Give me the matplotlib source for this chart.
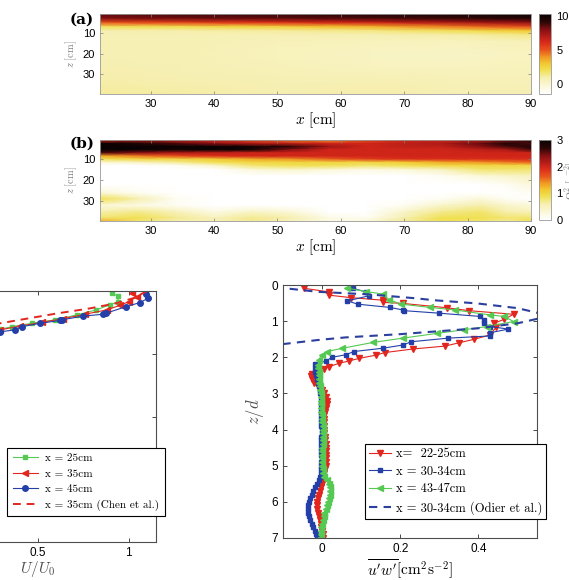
import matplotlib.pyplot as plt
import numpy as np
from matplotlib.colors import LinearSegmentedColormap

plt.rcParams['font.family'] = 'Liberation Sans'
plt.rcParams['mathtext.fontset'] = 'cm'
plt.rcParams['xtick.direction'] = 'in'
plt.rcParams['ytick.direction'] = 'in'
plt.rcParams['xtick.top'] = True
plt.rcParams['ytick.right'] = True

# ---- panel (a): vorticity-like field, rows = z, cols = x
a_x = [22, 35, 50, 65, 80, 90]
a_z = [0.8, 3, 5, 7, 9, 11, 14, 20, 26, 32, 39.5]
a_vals = [
    [8.5, 8.8, 9.0, 9.5, 9.8, 10.0],
    [8.0, 8.2, 8.4, 8.7, 9.0, 9.3],
    [5.0, 5.5, 6.0, 6.5, 7.3, 7.8],
    [2.0, 2.3, 2.8, 3.5, 4.6, 5.3],
    [0.9, 1.0, 1.2, 1.5, 2.3, 3.0],
    [0.8, 0.8, 0.8, 0.9, 1.1, 1.5],
    [0.8, 0.8, 0.7, 0.6, 0.6, 0.7],
    [0.8, 0.8, 0.6, 0.4, 0.3, 0.5],
    [0.9, 0.8, 0.7, 0.5, 0.5, 0.6],
    [1.0, 0.9, 0.8, 0.8, 0.7, 0.7],
    [1.2, 1.1, 0.9, 1.0, 0.8, 0.9],
]

# ---- panel (b): Omega^2 field
b_x = [22, 28, 34, 40, 46, 52, 58, 64, 70, 76, 82, 86, 90]
b_z = [0.8, 2.5, 4, 5.5, 7, 8.5, 10, 11.5, 13, 15, 18, 22, 26, 29, 32, 35, 38, 39.5]
b_vals = [
    [2.0, 2.2, 2.0, 1.9, 1.7, 1.5, 1.4, 1.7, 2.0, 2.0, 2.1, 2.4, 2.8],
    [3.0, 2.8, 2.6, 2.4, 2.2, 2.1, 2.0, 2.0, 2.1, 2.2, 2.5, 2.8, 2.6],
    [3.0, 3.0, 3.0, 3.0, 2.9, 2.7, 2.3, 2.0, 2.1, 2.1, 2.4, 2.6, 2.8],
    [3.0, 3.0, 2.9, 3.0, 2.9, 2.4, 2.0, 2.0, 2.0, 2.0, 2.1, 2.2, 2.6],
    [2.6, 2.4, 2.2, 2.1, 2.0, 2.0, 2.0, 2.0, 2.0, 2.0, 2.0, 2.0, 2.0],
    [1.3, 1.5, 1.7, 1.9, 2.0, 2.0, 2.0, 2.0, 2.0, 2.0, 2.0, 2.0, 2.0],
    [0.9, 1.0, 1.0, 1.1, 1.3, 1.4, 1.6, 1.8, 1.9, 1.9, 1.9, 1.9, 1.9],
    [0.3, 0.5, 0.7, 0.9, 1.0, 1.0, 1.0, 1.0, 1.1, 1.3, 1.4, 1.5, 1.6],
    [0.0, 0.0, 0.1, 0.4, 0.8, 0.9, 0.9, 0.8, 0.9, 1.0, 1.0, 1.0, 1.0],
    [0.0, 0.0, 0.0, 0.0, 0.3, 0.4, 0.3, 0.2, 0.3, 0.5, 0.8, 0.8, 0.8],
    [0.0, 0.0, 0.0, 0.0, 0.0, 0.0, 0.0, 0.0, 0.0, 0.1, 0.3, 0.4, 0.5],
    [0.0, 0.0, 0.0, 0.0, 0.0, 0.0, 0.0, 0.0, 0.0, 0.0, 0.0, 0.1, 0.3],
    [0.3, 0.1, 0.0, 0.0, 0.0, 0.0, 0.0, 0.0, 0.0, 0.0, 0.0, 0.0, 0.1],
    [0.9, 0.6, 0.1, 0.0, 0.0, 0.0, 0.0, 0.0, 0.0, 0.1, 0.3, 0.1, 0.0],
    [0.3, 0.2, 0.1, 0.0, 0.0, 0.0, 0.0, 0.0, 0.1, 0.4, 0.6, 0.4, 0.3],
    [0.6, 0.7, 0.5, 0.2, 0.4, 0.3, 0.0, 0.0, 0.4, 0.7, 0.8, 0.6, 0.5],
    [0.8, 0.9, 0.7, 0.5, 0.7, 0.6, 0.2, 0.1, 0.6, 0.9, 0.9, 0.8, 0.8],
    [1.3, 0.8, 0.6, 0.6, 0.7, 0.5, 0.2, 0.3, 0.7, 0.9, 0.8, 0.7, 0.9],
]

# ---- bottom left: U/U0 profiles (only the visible part)
u25 = [0.905, 0.941, 0.941, 0.896, 0.822, 0.716, 0.593, 0.465, 0.355, 0.29]
z25 = [0.037, 0.08, 0.17, 0.22, 0.30, 0.38, 0.46, 0.515, 0.57, 0.61]
u35 = [1.02, 1.045, 1.0, 0.95, 0.88, 0.76, 0.64, 0.52, 0.40, 0.29]
z35 = [0.03, 0.09, 0.17, 0.23, 0.30, 0.37, 0.44, 0.50, 0.56, 0.62]
u45 = [1.097, 1.106, 1.06, 0.984, 0.874, 0.86, 0.749, 0.63, 0.62, 0.511, 0.41, 0.374, 0.29]
z45 = [0.053, 0.116, 0.186, 0.25, 0.355, 0.37, 0.40, 0.46, 0.47, 0.515, 0.57, 0.62, 0.65]
u_chen = [1.10, 1.03, 0.93, 0.78, 0.61, 0.45, 0.29]
z_chen = [0.0, 0.11, 0.196, 0.28, 0.355, 0.435, 0.515]

# ---- bottom right: u'w' profiles
z_r = [0.09, 0.19, 0.28, 0.35, 0.42, 0.48, 0.51, 0.63, 0.71, 0.81, 0.95, 1.06, 1.17, 1.38,
       1.50, 1.60, 1.69, 1.77, 1.87, 1.94, 2.03, 2.10, 2.17, 2.26, 2.33, 2.40, 2.47, 2.53,
       2.6, 2.7, 2.8, 2.9, 3.0, 3.1, 3.2, 3.3, 3.4, 3.5, 3.6, 3.7, 3.8, 3.9, 4.0, 4.1,
       4.2, 4.3, 4.4, 4.5, 4.6, 4.7, 4.8, 4.9, 5.0, 5.1, 5.2, 5.3, 5.4, 5.5, 5.6, 5.7,
       5.8, 5.9, 6.0, 6.1, 6.2, 6.3, 6.4, 6.5, 6.6, 6.7, 6.8, 6.9, 7.0]
uw_r = [-0.047, 0.017, 0.017, 0.074, 0.155, 0.155, 0.207, 0.32, 0.376, 0.49, 0.466, 0.44,
        0.445, 0.43, 0.39, 0.35, 0.315, 0.233, 0.16, 0.138, 0.095, 0.069, 0.043, 0.017,
        0.005, -0.013, -0.026, -0.029, -0.026, -0.02, -0.01, 0.0, 0.005, 0.01, 0.012,
        0.012, 0.01, 0.008, 0.006, 0.005, 0.004, 0.004, 0.005, 0.006, 0.007, 0.008, 0.009,
        0.01, 0.01, 0.011, 0.011, 0.01, 0.009, 0.008, 0.006, 0.004, 0.002, 0.0, -0.003,
        -0.006, -0.009, -0.011, -0.013, -0.013, -0.012, -0.01, -0.008, -0.006, -0.004,
        -0.002, 0.0, 0.002, 0.003]

z_b = [0.09, 0.19, 0.30, 0.44, 0.53, 0.62, 0.69, 0.71, 0.78, 0.87, 0.97, 1.06, 1.15, 1.22,
       1.32, 1.41, 1.47, 1.57, 1.66, 1.75, 1.84, 1.93, 2.0, 2.1, 2.19, 2.3, 2.4, 2.5, 2.6,
       2.7, 2.8, 2.9, 3.0, 3.1, 3.2, 3.3, 3.4, 3.5, 3.6, 3.7, 3.8, 3.9, 4.0, 4.1, 4.2,
       4.3, 4.4, 4.5, 4.6, 4.7, 4.8, 4.9, 5.0, 5.1, 5.2, 5.3, 5.4, 5.5, 5.6, 5.7, 5.8,
       5.9, 6.0, 6.1, 6.2, 6.3, 6.4, 6.5, 6.6, 6.7, 6.8, 6.9, 7.0]
uw_b = [0.078, 0.112, 0.119, 0.065, 0.091, 0.173, 0.207, 0.21, 0.30, 0.405, 0.414, 0.414,
        0.43, 0.477, 0.43, 0.43, 0.323, 0.228, 0.207, 0.155, 0.082, 0.06, 0.026, 0.01,
        -0.017, -0.018, -0.017, -0.015, -0.012, -0.01, -0.008, -0.006, -0.005, -0.004,
        -0.004, -0.003, -0.003, -0.002, -0.002, -0.003, -0.003, -0.002, -0.001, -0.001,
        -0.002, -0.002, -0.003, -0.003, -0.002, -0.002, -0.001, -0.002, -0.003, -0.003,
        -0.004, -0.005, -0.008, -0.012, -0.017, -0.022, -0.027, -0.031, -0.034, -0.036,
        -0.036, -0.035, -0.033, -0.03, -0.027, -0.023, -0.019, -0.015, -0.012]

z_g = [0.09, 0.18, 0.25, 0.41, 0.53, 0.62, 0.69, 0.83, 0.87, 1.01, 1.15, 1.24, 1.34, 1.47,
       1.59, 1.75, 1.84, 1.93, 2.07, 2.2, 2.3, 2.4, 2.5, 2.6, 2.7, 2.8, 2.9, 3.0, 3.1,
       3.2, 3.3, 3.4, 3.5, 3.6, 3.7, 3.8, 3.9, 4.0, 4.1, 4.2, 4.3, 4.4, 4.5, 4.6, 4.7,
       4.8, 4.9, 5.0, 5.1, 5.2, 5.3, 5.4, 5.5, 5.6, 5.7, 5.8, 5.9, 6.0, 6.1, 6.2, 6.3,
       6.4, 6.5, 6.6, 6.7, 6.8, 6.9, 7.0]
uw_g = [0.065, 0.112, 0.155, 0.172, 0.203, 0.276, 0.34, 0.431, 0.466, 0.49, 0.422, 0.362,
        0.293, 0.207, 0.13, 0.052, 0.013, 0.0, -0.009, -0.01, -0.01, -0.009, -0.008,
        -0.008, -0.007, -0.006, -0.005, -0.004, -0.003, -0.003, -0.002, -0.002, -0.002,
        -0.001, 0.0, 0.001, 0.002, 0.002, 0.003, 0.003, 0.002, 0.002, 0.001, 0.001, 0.0,
        0.0, 0.001, 0.001, 0.002, 0.003, 0.006, 0.012, 0.017, 0.02, 0.02, 0.019, 0.017,
        0.015, 0.012, 0.009, 0.006, 0.004, 0.002, 0.0, -0.002, -0.003, -0.004, -0.005]

z_odier = [0.05, 0.09, 0.19, 0.26, 0.37, 0.42, 0.51, 0.64, 0.78, 0.9, 1.06, 1.2, 1.29,
           1.36, 1.45, 1.52, 1.64, 1.70]
uw_odier = [-0.12, -0.095, -0.009, 0.121, 0.242, 0.285, 0.397, 0.50, 0.555, 0.565, 0.50,
            0.397, 0.284, 0.20, 0.06, -0.009, -0.104, -0.13]

cmap = LinearSegmentedColormap.from_list('heat', [
    (0.00, '#ffffff'), (0.10, '#fbf8d8'), (0.20, '#f6efb0'), (0.30, '#f0e050'),
    (0.38, '#f2c830'), (0.46, '#f09a22'), (0.55, '#e8541c'), (0.65, '#d8281a'),
    (0.80, '#8a1014'), (0.90, '#2a0606'), (1.00, '#0a0202')])

W, H = 569, 580
fig = plt.figure(figsize=(W / 100, H / 100), dpi=100)


def box(x0, y0, x1, y1):
    return [x0 / W, 1 - y1 / H, (x1 - x0) / W, (y1 - y0) / H]


def field(rect, crect, xs, zs, vals, vmin, vmax, cticks, label, lx, tag, ty):
    ax = fig.add_axes(box(*rect))
    m = ax.pcolormesh(xs, zs, np.array(vals), shading='gouraud', cmap=cmap,
                      vmin=vmin, vmax=vmax, rasterized=True)
    ax.set_xlim(22, 90)
    ax.set_ylim(39.5, 0.8)
    ax.set_xticks([30, 40, 50, 60, 70, 80, 90])
    ax.set_yticks([10, 20, 30])
    ax.tick_params(labelsize=8, length=2.5, width=0.5, color='0.5')
    for s in ax.spines.values():
        s.set_color('0.6')
        s.set_linewidth(0.6)
    ax.set_xlabel(r'$x\ [\mathrm{cm}]$', fontsize=11, labelpad=1)
    ax.set_ylabel(r'$z\ [\mathrm{cm}]$', fontsize=7.5, color='0.5', labelpad=3)
    cax = fig.add_axes(box(*crect))
    cb = fig.colorbar(m, cax=cax, ticks=cticks)
    cb.outline.set_edgecolor('0.6')
    cb.outline.set_linewidth(0.6)
    cax.tick_params(labelsize=8, length=0, pad=4)
    fig.text(lx / W, 1 - (rect[1] + rect[3]) / 2 / H, label, rotation=90,
             ha='center', va='center', fontsize=8, color='0.5')
    fig.text(70 / W, 1 - ty / H, tag, fontsize=11, fontweight='bold',
             family='DejaVu Serif', ha='left', va='center')


field((100, 14, 531, 94), (539, 14, 551, 94), a_x, a_z, a_vals, -1.4, 10.3,
      [0, 5, 10], r'$|\omega|\ [\mathrm{s}^{-1}]$', 578, '(a)', 20)
field((100, 140, 531, 221), (539, 140, 551, 220), b_x, b_z, b_vals, 0, 3,
      [0, 1, 2, 3], r'$\Omega^2\ [\mathrm{s}^{-2}]$', 572, '(b)', 144)

red = '#e2261e'
green = '#55c953'
blue = '#2440a8'

# bottom-left panel (its left part lies outside the figure)
ax1 = fig.add_axes(box(-80, 291, 156, 542))
ax1.plot(u25, z25, '-s', color=green, ms=3.5, lw=0.8, mec=green, label='x = 25cm')
ax1.plot(u35, z35, '-<', color=red, ms=4.5, lw=0.8, mec=red, label='x = 35cm')
ax1.plot(u45, z45, '-o', color=blue, ms=4, lw=0.8, mec=blue, label='x = 45cm')
ax1.plot(u_chen, z_chen, '--', color=red, lw=1.4, dashes=(4, 3),
         label='x = 35cm (Chen et al.)')
ax1.set_xlim(-0.15, 1.15)
ax1.set_ylim(4, 0)
ax1.set_xticks([0.5, 1])
ax1.set_xticklabels(['0.5', '1'])
ax1.set_yticks([0, 1, 2, 3, 4])
ax1.set_yticklabels([])
ax1.tick_params(labelsize=8.5, length=3, width=0.5)
ax1.set_xlabel(r'$U/U_0$', fontsize=11, color='0.3', labelpad=0)
leg1 = ax1.legend(loc='upper right', bbox_to_anchor=(165 / W, 1 - 448 / H),
                  bbox_transform=fig.transFigure, borderaxespad=0,
                  prop={'family': ['cmr10', 'DejaVu Serif'], 'size': 8},
                  fancybox=False, edgecolor='k', framealpha=1, handlelength=2.25,
                  handletextpad=0.7, labelspacing=0.5, borderpad=0.5)
leg1.get_frame().set_linewidth(0.8)

# bottom-right panel
ax2 = fig.add_axes(box(283, 285, 537, 538))
ax2.plot(uw_r, z_r, '-v', color=red, ms=4, lw=0.8, mec=red, label='x=  22-25cm')
ax2.plot(uw_b, z_b, '-s', color=blue, ms=3.5, lw=0.8, mec=blue, label='x = 30-34cm')
ax2.plot(uw_g, z_g, '-<', color=green, ms=4, lw=0.8, mec=green, label='x = 43-47cm')
ax2.plot(uw_odier, z_odier, '--', color='#2b3f9e', lw=1.5, dashes=(4, 3),
         label='x = 30-34cm (Odier et al.)')
ax2.set_xlim(-0.1, 0.55)
ax2.set_ylim(7, 0)
ax2.set_xticks([0, 0.2, 0.4])
ax2.set_xticklabels(['0', '0.2', '0.4'])
ax2.set_yticks(range(8))
ax2.tick_params(labelsize=8.5, length=3, width=0.5)
ax2.set_xlabel(r"$\overline{u^\prime w^\prime}[\mathrm{cm}^2\mathrm{s}^{-2}]$",
               fontsize=11, labelpad=2)
ax2.set_ylabel(r'$z/d$', fontsize=12, color='0.3')
leg2 = ax2.legend(loc='upper right', bbox_to_anchor=(546 / W, 1 - 444 / H),
                  bbox_transform=fig.transFigure, borderaxespad=0,
                  prop={'family': ['cmr10', 'DejaVu Serif'], 'size': 9},
                  fancybox=False, edgecolor='k', framealpha=1, handlelength=1.75,
                  handletextpad=0.4, labelspacing=0.45, borderpad=0.3)
leg2.get_frame().set_linewidth(0.8)

for ax in (ax1, ax2):
    for s in ax.spines.values():
        s.set_color('0.3')
        s.set_linewidth(0.8)

fig.savefig('out.png', dpi=100)
